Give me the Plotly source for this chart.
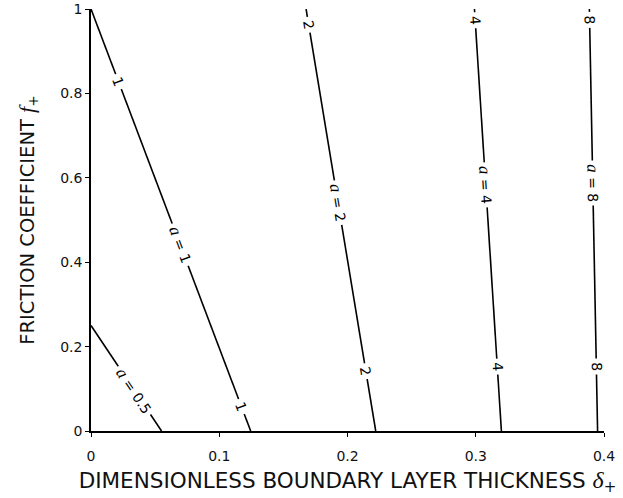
import math
import plotly.graph_objects as go

# ---- data ----
A_VALUES = [0.5, 1, 2, 4, 8]
# each contour line is approximately straight: (delta, f) at its upper end and lower end
DELTA_TOP = [0.0, 0.0, 0.1677, 0.299, 0.3886]
F_TOP = [0.25, 1.0, 1.0, 1.0, 1.0]
DELTA_BOTTOM = [0.055, 0.1245, 0.222, 0.320, 0.395]
F_BOTTOM = [0.0, 0.0, 0.0, 0.0, 0.0]
# f positions of the inline labels on each line, and which one carries "a ="
LABEL_F = [[0.097], [0.828, 0.441, 0.058], [0.962, 0.541, 0.141],
           [0.974, 0.584, 0.153], [0.974, 0.588, 0.153]]
LABEL_FULL_INDEX = [0, 1, 1, 1, 1]

X_TICKS = [0, 0.1, 0.2, 0.3, 0.4]
X_TICK_TEXT = ["0", "0.1", "0.2", "0.3", "0.4"]
Y_TICKS = [0, 0.2, 0.4, 0.6, 0.8, 1]
Y_TICK_TEXT = ["0", "0.2", "0.4", "0.6", "0.8", "1"]

X_RANGE = [0, 0.4]
Y_RANGE = [0, 1]

W, H = 623, 498
ML, MR, MT, MB = 91, 19, 9, 67
PW, PH = W - ML - MR, H - MT - MB

fig = go.Figure()
annotations = []

def fmt(v):
    return ("%g" % v)

ITAL = "<span style='font-family:Liberation Serif;font-size:%dpx'><i>%s</i></span>"

for i, a in enumerate(A_VALUES):
    xs = [DELTA_TOP[i], DELTA_BOTTOM[i]]
    ys = [F_TOP[i], F_BOTTOM[i]]
    fig.add_trace(go.Scatter(x=xs, y=ys, mode="lines",
                             line=dict(color="black", width=1.6),
                             showlegend=False, hoverinfo="skip"))
    dxp = (xs[1] - xs[0]) / (X_RANGE[1] - X_RANGE[0]) * PW
    dyp = (ys[0] - ys[1]) / (Y_RANGE[1] - Y_RANGE[0]) * PH
    ang = math.degrees(math.atan2(dyp, dxp))
    for j, fl in enumerate(LABEL_F[i]):
        t = (ys[0] - fl) / (ys[0] - ys[1])
        xl = xs[0] + t * (xs[1] - xs[0])
        if j == LABEL_FULL_INDEX[i]:
            txt = (ITAL % (17, "a")) + " = " + fmt(a)
        else:
            txt = fmt(a)
        annotations.append(dict(x=xl, y=fl, xref="x", yref="y", text=txt,
                                showarrow=False, textangle=ang,
                                font=dict(family="DejaVu Sans", size=14, color="black"),
                                bgcolor="white", borderpad=3))

fig.update_layout(
    width=W, height=H,
    margin=dict(l=ML, r=MR, t=MT, b=MB, autoexpand=False),
    paper_bgcolor="white", plot_bgcolor="white",
    annotations=annotations,
    xaxis=dict(range=X_RANGE, tickvals=X_TICKS, ticktext=X_TICK_TEXT,
               showgrid=False, zeroline=False, showline=True, linecolor="black",
               linewidth=1.6, ticks="outside", ticklen=4, tickcolor="black", tickwidth=1.3,
               ticklabelstandoff=7,
               tickfont=dict(family="DejaVu Sans", size=14, color="#111"),
               title=dict(text="DIMENSIONLESS BOUNDARY LAYER THICKNESS " + (ITAL % (24, "δ")) + "<sub>+</sub>",
                          font=dict(family="DejaVu Sans", size=21.5, color="#111"),
                          standoff=10)),
    yaxis=dict(range=Y_RANGE, tickvals=Y_TICKS, ticktext=Y_TICK_TEXT,
               showgrid=False, zeroline=False, showline=True, linecolor="black",
               linewidth=1.6, ticks="outside", ticklen=4, tickcolor="black", tickwidth=1.3,
               tickfont=dict(family="DejaVu Sans", size=14, color="#111"),
               title=dict(text="FRICTION COEFFICIENT " + (ITAL % (22, "f")) + "<sub>+</sub>",
                          font=dict(family="DejaVu Sans", size=19.5, color="#111"),
                          standoff=20)),
)

fig.write_html("out.html")
